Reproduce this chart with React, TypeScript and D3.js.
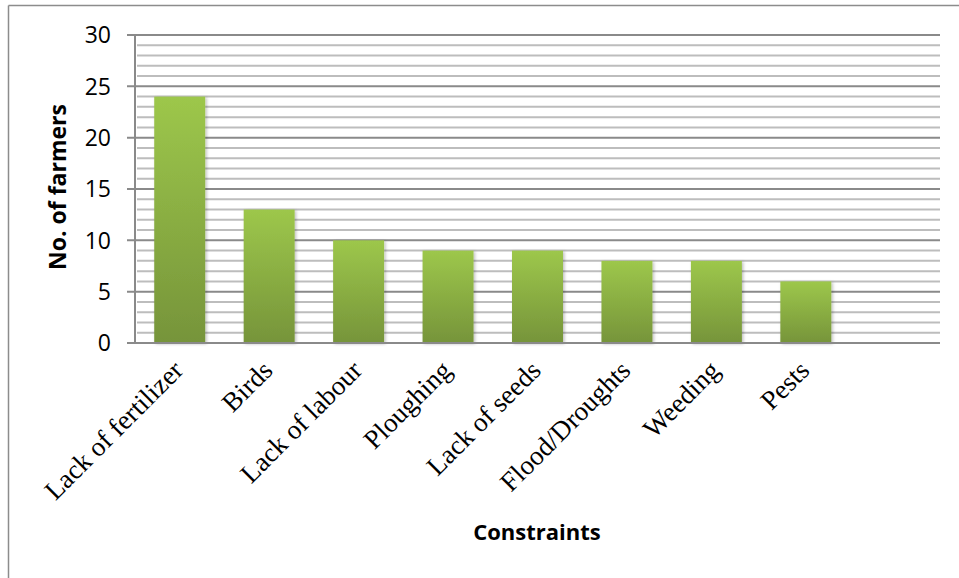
import React from "react";
import * as d3 from "d3";

const categories = [
  "Lack of fertilizer",
  "Birds",
  "Lack of labour",
  "Ploughing",
  "Lack of seeds",
  "Flood/Droughts",
  "Weeding",
  "Pests",
];
const values = [24, 13, 10, 9, 9, 8, 8, 6];
const yTicks = [0, 5, 10, 15, 20, 25, 30];
const minorTicks = d3.range(0, 31, 1);
const slots = [...categories, ""];

const W = 959;
const H = 578;
const left = 135;
const right = 940;
const top = 35;
const bottom = 343;

export default function App() {
  const x = d3
    .scaleBand<string>()
    .domain(slots)
    .range([left, right])
    .paddingInner(0.43)
    .paddingOuter(0.215);
  const y = d3.scaleLinear().domain([0, 30]).range([bottom, top]);

  return (
    <div style={{ position: "absolute", left: 0, top: 0 }}>
      <svg width={W} height={H} style={{ display: "block", background: "#fff" }}>
        <defs>
          <linearGradient id="barGrad" x1="0" y1="0" x2="0" y2="1">
            <stop offset="0%" stopColor="#9dc74b" />
            <stop offset="100%" stopColor="#76943a" />
          </linearGradient>
          <filter id="shadow" x="-20%" y="-5%" width="140%" height="110%">
            <feDropShadow dx="1.5" dy="1" stdDeviation="1.5" floodColor="#000" floodOpacity="0.25" />
          </filter>
        </defs>
        {/* outer frame */}
        <line x1={8.5} y1={5.5} x2={W} y2={5.5} stroke="#8c8c8c" strokeWidth={1.5} />
        <line x1={8.5} y1={5.5} x2={8.5} y2={H} stroke="#8c8c8c" strokeWidth={1.5} />

        {/* minor gridlines */}
        {minorTicks
          .filter((t) => t % 5 !== 0)
          .map((t) => (
            <line
              key={"m" + t}
              x1={left + 2}
              x2={right}
              y1={y(t)}
              y2={y(t)}
              stroke="#bdbdbd"
              strokeWidth={2}
            />
          ))}
        {/* major gridlines */}
        {yTicks.map((t) => (
          <line
            key={"M" + t}
            x1={127}
            x2={right}
            y1={y(t)}
            y2={y(t)}
            stroke="#8a8a8a"
            strokeWidth={2}
          />
        ))}
        {/* y axis line */}
        <line x1={left} x2={left} y1={top} y2={bottom + 1} stroke="#8a8a8a" strokeWidth={2} />

        {/* bars */}
        {categories.map((c, i) => (
          <rect
            key={c}
            x={x(c)}
            y={y(values[i])}
            width={x.bandwidth()}
            height={y(0) - y(values[i])}
            fill="url(#barGrad)"
            filter="url(#shadow)"
          />
        ))}
        {/* baseline redraw */}
        <line x1={127} x2={right} y1={y(0)} y2={y(0)} stroke="#8a8a8a" strokeWidth={2} />

        {/* y tick labels */}
        {yTicks.map((t) => (
          <text
            key={"yl" + t}
            x={111}
            y={y(t)}
            dy="0.36em"
            textAnchor="end"
            fontFamily="'Open Sans', sans-serif"
            fontSize={23}
            fill="#000"
          >
            {t}
          </text>
        ))}

        {/* x labels */}
        {categories.map((c) => {
          const cx = (x(c) ?? 0) + x.bandwidth() / 2 + 5;
          const cy = 372;
          return (
            <text
              key={"xl" + c}
              x={cx}
              y={cy}
              textAnchor="end"
              transform={`rotate(-45 ${cx} ${cy})`}
              fontFamily="'Liberation Serif', 'Times New Roman', serif"
              fontSize={27}
              fill="#000"
            >
              {c}
            </text>
          );
        })}

        {/* axis titles */}
        <text
          x={0}
          y={0}
          transform={`translate(66 187) rotate(-90)`}
          textAnchor="middle"
          fontFamily="'Open Sans', sans-serif"
          fontWeight="bold"
          fontSize={23}
          fill="#000"
        >
          No. of farmers
        </text>
        <text
          x={537}
          y={540}
          textAnchor="middle"
          fontFamily="'Open Sans', sans-serif"
          fontWeight="bold"
          fontSize={22}
          fill="#000"
        >
          Constraints
        </text>
      </svg>
    </div>
  );
}
